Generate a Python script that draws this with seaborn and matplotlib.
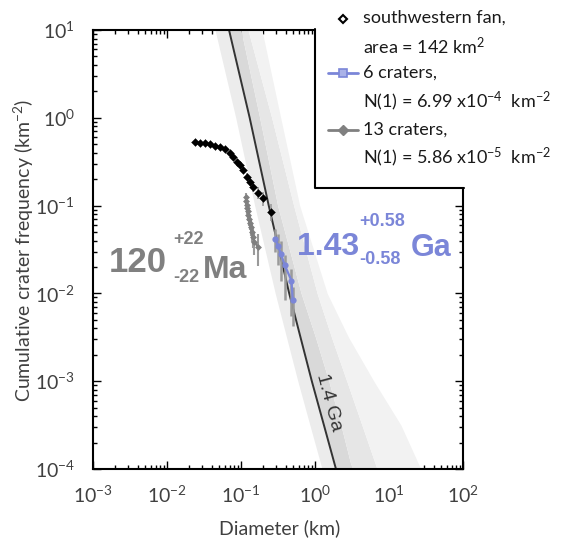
import numpy as np
import pandas as pd
import seaborn as sns
import matplotlib
matplotlib.use("Agg")
import matplotlib.pyplot as plt
from matplotlib.patches import Rectangle
from matplotlib.lines import Line2D
from matplotlib.ticker import LogLocator, NullFormatter

# ---------------- data ----------------
# southwestern fan, cumulative crater frequency
fan_D = [0.0239, 0.0279, 0.0327, 0.0381, 0.0446, 0.052, 0.061, 0.071, 0.078,
         0.0875, 0.097, 0.106, 0.119, 0.132, 0.145, 0.170, 0.196, 0.252]
fan_N = [0.535, 0.52, 0.51, 0.50, 0.48, 0.46, 0.44, 0.40, 0.355,
         0.316, 0.29, 0.254, 0.213, 0.187, 0.164, 0.140, 0.121, 0.085]
fan_err = [0.02, 0.02, 0.02, 0.02, 0.02, 0.03, 0.03, 0.03, 0.04,
           0.05, 0.06, 0.07, 0.09, 0.10, 0.12, 0.15, 0.18, 0.22]

# 13 craters fit (gray)
c13_D = [0.116, 0.118, 0.120, 0.122, 0.124, 0.126, 0.129, 0.132, 0.135,
         0.139, 0.144, 0.152, 0.168]
c13_N = [0.125, 0.112, 0.102, 0.094, 0.086, 0.079, 0.071, 0.064, 0.057,
         0.050, 0.044, 0.039, 0.034]
c13_err = [0.12, 0.12, 0.13, 0.14, 0.15, 0.16, 0.17, 0.18, 0.2,
           0.22, 0.25, 0.3, 0.4]

# 6 craters fit (blue)
c6_D = [0.288, 0.316, 0.347, 0.39, 0.48, 0.50]
c6_N = [0.042, 0.035, 0.028, 0.021, 0.014, 0.0085]
c6_err_lo = [0.3, 0.4, 0.5, 0.6, 0.6, 0.5]
c6_err_hi = [0.3, 0.35, 0.4, 0.3, 0.35, 0.4]

# 1.4 Ga isochron and its uncertainty envelopes
iso_N = [10, 1, 0.1, 0.01, 3.16e-3, 1e-3, 3.16e-4, 1e-4]
iso_D = [0.0689, 0.131, 0.237, 0.448, 0.637, 0.906, 1.32, 1.92]
band_left = [0.0446, 0.0849, 0.153, 0.290, 0.412, 0.586, 0.853, 1.245]
band_dark = [0.100, 0.179, 0.313, 0.650, 1.016, 1.538, 2.24, 3.16]
band_mid = [0.1245, 0.260, 0.515, 1.069, 1.671, 2.69, 4.31, 6.89]
band_outer = [0.192, 0.344, 0.621, 1.462, 2.84, 6.24, 14.5, 26.9]

xticks = [1e-3, 1e-2, 1e-1, 1e0, 1e1, 1e2]
yticks = [1e-4, 1e-3, 1e-2, 1e-1, 1e0, 1e1]

# ---------------- style ----------------
sns.set_theme(style="ticks")
plt.rcParams["font.family"] = ["Lato", "DejaVu Sans"]
plt.rcParams["mathtext.fontset"] = "custom"
plt.rcParams["mathtext.rm"] = "Lato"
plt.rcParams["mathtext.it"] = "Lato:italic"
plt.rcParams["mathtext.bf"] = "Lato:bold"

BLUE = "#7b86d8"
GRAY = "#808080"
TXT = "#404040"

W, H = 563, 546
fig = plt.figure(figsize=(W / 100, H / 100), dpi=100)
ax = fig.add_axes([93 / W, 77 / H, 370 / W, 439 / H])
ax.set_xscale("log")
ax.set_yscale("log")
ax.set_xlim(1e-3, 1e2)
ax.set_ylim(1e-4, 1e1)

# envelopes
ax.fill_betweenx(iso_N, band_left, iso_D, color="#ececec", lw=0, zorder=1)
ax.fill_betweenx(iso_N, iso_D, band_dark, color="#d9d9d9", lw=0, zorder=1)
ax.fill_betweenx(iso_N, band_dark, band_mid, color="#e6e6e6", lw=0, zorder=1)
ax.fill_betweenx(iso_N, band_mid, band_outer, color="#f2f2f2", lw=0, zorder=1)

# isochron
sns.lineplot(x=iso_D, y=iso_N, sort=False, estimator=None, color="#333333",
             lw=1.4, ax=ax, zorder=2)

# error bars
fan_lo = [n * e for n, e in zip(fan_N, fan_err)]
ax.errorbar(fan_D, fan_N, yerr=[fan_lo, fan_lo], fmt="none", ecolor="#9a9a9a",
            elinewidth=1.2, zorder=3)
c13_lo = [n * e for n, e in zip(c13_N, c13_err)]
ax.errorbar(c13_D, c13_N, yerr=[c13_lo, c13_lo], fmt="none", ecolor="#9a9a9a",
            elinewidth=1.5, zorder=3)
c6_lo = [n * e for n, e in zip(c6_N, c6_err_lo)]
c6_hi = [n * e for n, e in zip(c6_N, c6_err_hi)]
ax.errorbar(c6_D, c6_N, yerr=[c6_lo, c6_hi], fmt="none", ecolor="#9a9a9a",
            elinewidth=1.8, zorder=3)

# data series
sns.lineplot(x=c13_D, y=c13_N, sort=False, estimator=None, color=GRAY, lw=1.5,
             marker="D", markersize=3.5, markeredgewidth=0, ax=ax, zorder=4)
sns.lineplot(x=c6_D, y=c6_N, sort=False, estimator=None, color=BLUE, lw=1.6,
             marker="o", markersize=4.5, markeredgewidth=0, ax=ax, zorder=5)
sns.scatterplot(x=fan_D, y=fan_N, marker="D", s=16, color="black",
                edgecolor="black", linewidth=0.3, ax=ax, zorder=6)

# ticks
ax.xaxis.set_minor_locator(LogLocator(base=10, subs=np.arange(2, 10), numticks=100))
ax.yaxis.set_minor_locator(LogLocator(base=10, subs=np.arange(2, 10), numticks=100))
ax.xaxis.set_minor_formatter(NullFormatter())
ax.yaxis.set_minor_formatter(NullFormatter())
ax.set_xticks(xticks)
ax.set_yticks(yticks)
ax.set_xlim(1e-3, 1e2)
ax.set_ylim(1e-4, 1e1)
ax.tick_params(which="both", direction="in", top=True, right=True,
               color="black", width=1.0)
ax.tick_params(which="major", length=6, labelsize=14, labelcolor=TXT)
ax.tick_params(axis="y", which="major", pad=13)
ax.tick_params(axis="x", which="major", pad=11)
ax.tick_params(which="minor", length=3)
for s in ax.spines.values():
    s.set_linewidth(1.5)
    s.set_color("black")

fig.text(24 / W, 1 - 250 / H, r"Cumulative crater frequency (km$^{\mathregular{-2}}$)",
         rotation=90, ha="center", va="center", fontsize=14, color=TXT)
fig.text(280 / W, 1 - 528 / H, "Diameter (km)", ha="center", va="center",
         fontsize=14, color=TXT)

# legend area cut-out
bx, by = (315 - 93) / 370, (469 - 188) / 439
ax.add_patch(Rectangle((bx, by), 1.2, 1.0, transform=ax.transAxes,
                       facecolor="white", edgecolor="none", clip_on=False, zorder=20))
ax.add_line(Line2D([bx, bx, 1.0 + 0.004], [1.0 + 0.002, by, by], transform=ax.transAxes,
                   color="black", lw=1.5, clip_on=False, zorder=21))

LEG = "#1a1a1a"
LFS = 13
def fx(px):
    return px / W
def fy(py):
    return 1 - py / H

fig.add_artist(Line2D([fx(343)], [fy(19)], marker="D", markersize=4.5,
                      markerfacecolor="white", markeredgecolor="black",
                      markeredgewidth=1.5, lw=0, zorder=30))
fig.text(fx(363), fy(18), "southwestern fan,", fontsize=LFS, color=LEG,
         va="center", ha="left", zorder=30)
fig.text(fx(363), fy(46), r"area = 142 km$^{\mathregular{2}}$", fontsize=LFS,
         color=LEG, va="center", ha="left", zorder=30)

fig.add_artist(Line2D([fx(328), fx(358)], [fy(73), fy(73)], color=BLUE, lw=2,
                      zorder=30))
fig.add_artist(Line2D([fx(343)], [fy(73)], marker="s", markersize=6,
                      markerfacecolor="#aab2e8", markeredgecolor=BLUE,
                      markeredgewidth=1.2, lw=0, zorder=31))
fig.text(fx(363), fy(73), "6 craters,", fontsize=LFS, color=LEG, va="center",
         ha="left", zorder=30)
fig.text(fx(363), fy(101), r"N(1) = 6.99 x10$^{\mathregular{-4}}$  km$^{\mathregular{-2}}$",
         fontsize=LFS, color=LEG, va="center", ha="left", zorder=30)

fig.add_artist(Line2D([fx(328), fx(358)], [fy(130), fy(130)], color=GRAY, lw=2,
                      zorder=30))
fig.add_artist(Line2D([fx(343)], [fy(130)], marker="D", markersize=5,
                      markerfacecolor=GRAY, markeredgecolor=GRAY, lw=0, zorder=31))
fig.text(fx(363), fy(130), "13 craters,", fontsize=LFS, color=LEG, va="center",
         ha="left", zorder=30)
fig.text(fx(363), fy(157), r"N(1) = 5.86 x10$^{\mathregular{-5}}$  km$^{\mathregular{-2}}$",
         fontsize=LFS, color=LEG, va="center", ha="left", zorder=30)

# age annotations
AR = ["Liberation Sans", "DejaVu Sans"]
fig.text(fx(109), fy(272), "120", fontsize=25, fontweight="bold", color=GRAY,
         family=AR, ha="left", va="baseline")
fig.text(fx(173), fy(240), "+22", fontsize=13, fontweight="bold", color=GRAY,
         family=AR, ha="left", va="center")
fig.text(fx(173), fy(277), "-22", fontsize=13, fontweight="bold", color=GRAY,
         family=AR, ha="left", va="center")
fig.text(fx(203), fy(278), "Ma", fontsize=23, fontweight="bold", color=GRAY,
         family=AR, ha="left", va="baseline")

fig.text(fx(297), fy(255), "1.43", fontsize=23, fontweight="bold", color=BLUE,
         family=AR, ha="left", va="baseline")
fig.text(fx(359), fy(222), "+0.58", fontsize=13, fontweight="bold", color=BLUE,
         family=AR, ha="left", va="center")
fig.text(fx(359), fy(259), "-0.58", fontsize=13, fontweight="bold", color=BLUE,
         family=AR, ha="left", va="center")
fig.text(fx(411), fy(256), "Ga", fontsize=22, fontweight="bold", color=BLUE,
         family=AR, ha="left", va="baseline")

ax.text(1.55, 5.7e-4, "1.4 Ga", rotation=-75, rotation_mode="anchor",
        ha="center", va="center", fontsize=14, color="#333333", family=AR,
        zorder=7)

fig.savefig("out.png", dpi=100)
